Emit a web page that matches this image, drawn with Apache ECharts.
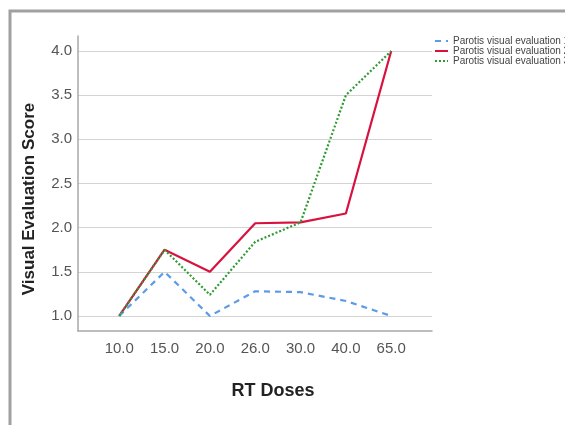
<!DOCTYPE html>
<html>
<head>
<meta charset="utf-8">
<script src="https://cdn.jsdelivr.net/npm/echarts@6/dist/echarts.min.js"></script>
<style>
html,body{margin:0;padding:0;background:#fff;}
#c{width:565px;height:425px;}
</style>
</head>
<body>
<div id="c"></div>
<script>
var doses = ['10.0', '15.0', '20.0', '26.0', '30.0', '40.0', '65.0'];
var eval1 = [1.0, 1.5, 1.0, 1.28, 1.27, 1.17, 1.0];
var eval2 = [1.0, 1.75, 1.5, 2.05, 2.06, 2.16, 4.0];
var eval3 = [1.0, 1.75, 1.24, 1.84, 2.06, 3.5, 4.0];
var seriesNames = ['Parotis visual evaluation 1', 'Parotis visual evaluation 2', 'Parotis visual evaluation 3'];
var yTicks = [1.0, 1.5, 2.0, 2.5, 3.0, 3.5, 4.0];

function pairs(arr) { return arr.map(function (v, i) { return [i, v]; }); }
var xIdx = doses.map(function (d, i) { return i; });

var chart = echarts.init(document.getElementById('c'), null, { renderer: 'canvas' });
var font = 'Liberation Sans, Arial, sans-serif';
chart.setOption({
  backgroundColor: '#fff',
  animation: false,
  graphic: [{
    type: 'rect',
    shape: { x: 10, y: 11, width: 700, height: 600 },
    style: { fill: 'none', stroke: '#a0a0a0', lineWidth: 3 },
    z: 0
  }],
  legend: {
    orient: 'vertical',
    left: 434,
    top: 36,
    padding: 0,
    itemGap: 0,
    itemWidth: 13,
    itemHeight: 10,
    itemStyle: { color: 'rgba(0,0,0,0)', borderColor: 'rgba(0,0,0,0)', borderWidth: 0, opacity: 0 },
    textStyle: { fontSize: 10, lineHeight: 10, color: '#444', fontFamily: font },
    data: seriesNames
  },
  grid: { left: 78, right: 133, top: 36, bottom: 94, containLabel: false },
  xAxis: {
    type: 'value',
    min: -0.91,
    max: 6.9,
    name: 'RT Doses',
    nameLocation: 'middle',
    nameGap: 51,
    nameTextStyle: { fontSize: 18, fontWeight: 'bold', color: '#222', fontFamily: font, padding: [0, 0, 0, 36] },
    axisLine: { show: true, onZero: false, lineStyle: { color: '#a8a8a8', width: 1.5 } },
    axisTick: { show: false, customValues: xIdx },
    splitLine: { show: false },
    axisLabel: {
      customValues: xIdx,
      formatter: function (v) { return doses[Math.round(v)]; },
      fontSize: 15, color: '#555', fontFamily: font, margin: 10
    }
  },
  yAxis: {
    type: 'value',
    min: 0.83,
    max: 4.17,
    name: 'Visual Evaluation Score',
    nameLocation: 'middle',
    nameGap: 40,
    nameTextStyle: { fontSize: 17, fontWeight: 'bold', color: '#222', fontFamily: font, padding: [0, 31, 0, 0] },
    axisLine: { show: true, onZero: false, lineStyle: { color: '#a8a8a8', width: 1.5 } },
    axisTick: { show: false, customValues: yTicks },
    splitLine: { show: true, lineStyle: { color: '#d4d4d4', width: 1 } },
    axisLabel: {
      customValues: yTicks,
      formatter: function (v) { return v.toFixed(1); },
      fontSize: 15, color: '#555', fontFamily: font, margin: 6
    }
  },
  series: [
    {
      name: seriesNames[0], type: 'line', data: pairs(eval1), symbol: 'none',
      lineStyle: { color: '#5b9be8', width: 2.2, type: [6, 5] }, itemStyle: { color: '#5b9be8' }, z: 3
    },
    {
      name: seriesNames[1], type: 'line', data: pairs(eval2), symbol: 'none',
      lineStyle: { color: '#d8123f', width: 2.2, type: 'solid' }, itemStyle: { color: '#d8123f' }, z: 2
    },
    {
      name: seriesNames[2], type: 'line', data: pairs(eval3), symbol: 'none',
      lineStyle: { color: '#2f9a32', width: 2.2, type: [2, 2] }, itemStyle: { color: '#2f9a32' }, z: 4
    }
  ]
});
</script>
</body>
</html>
